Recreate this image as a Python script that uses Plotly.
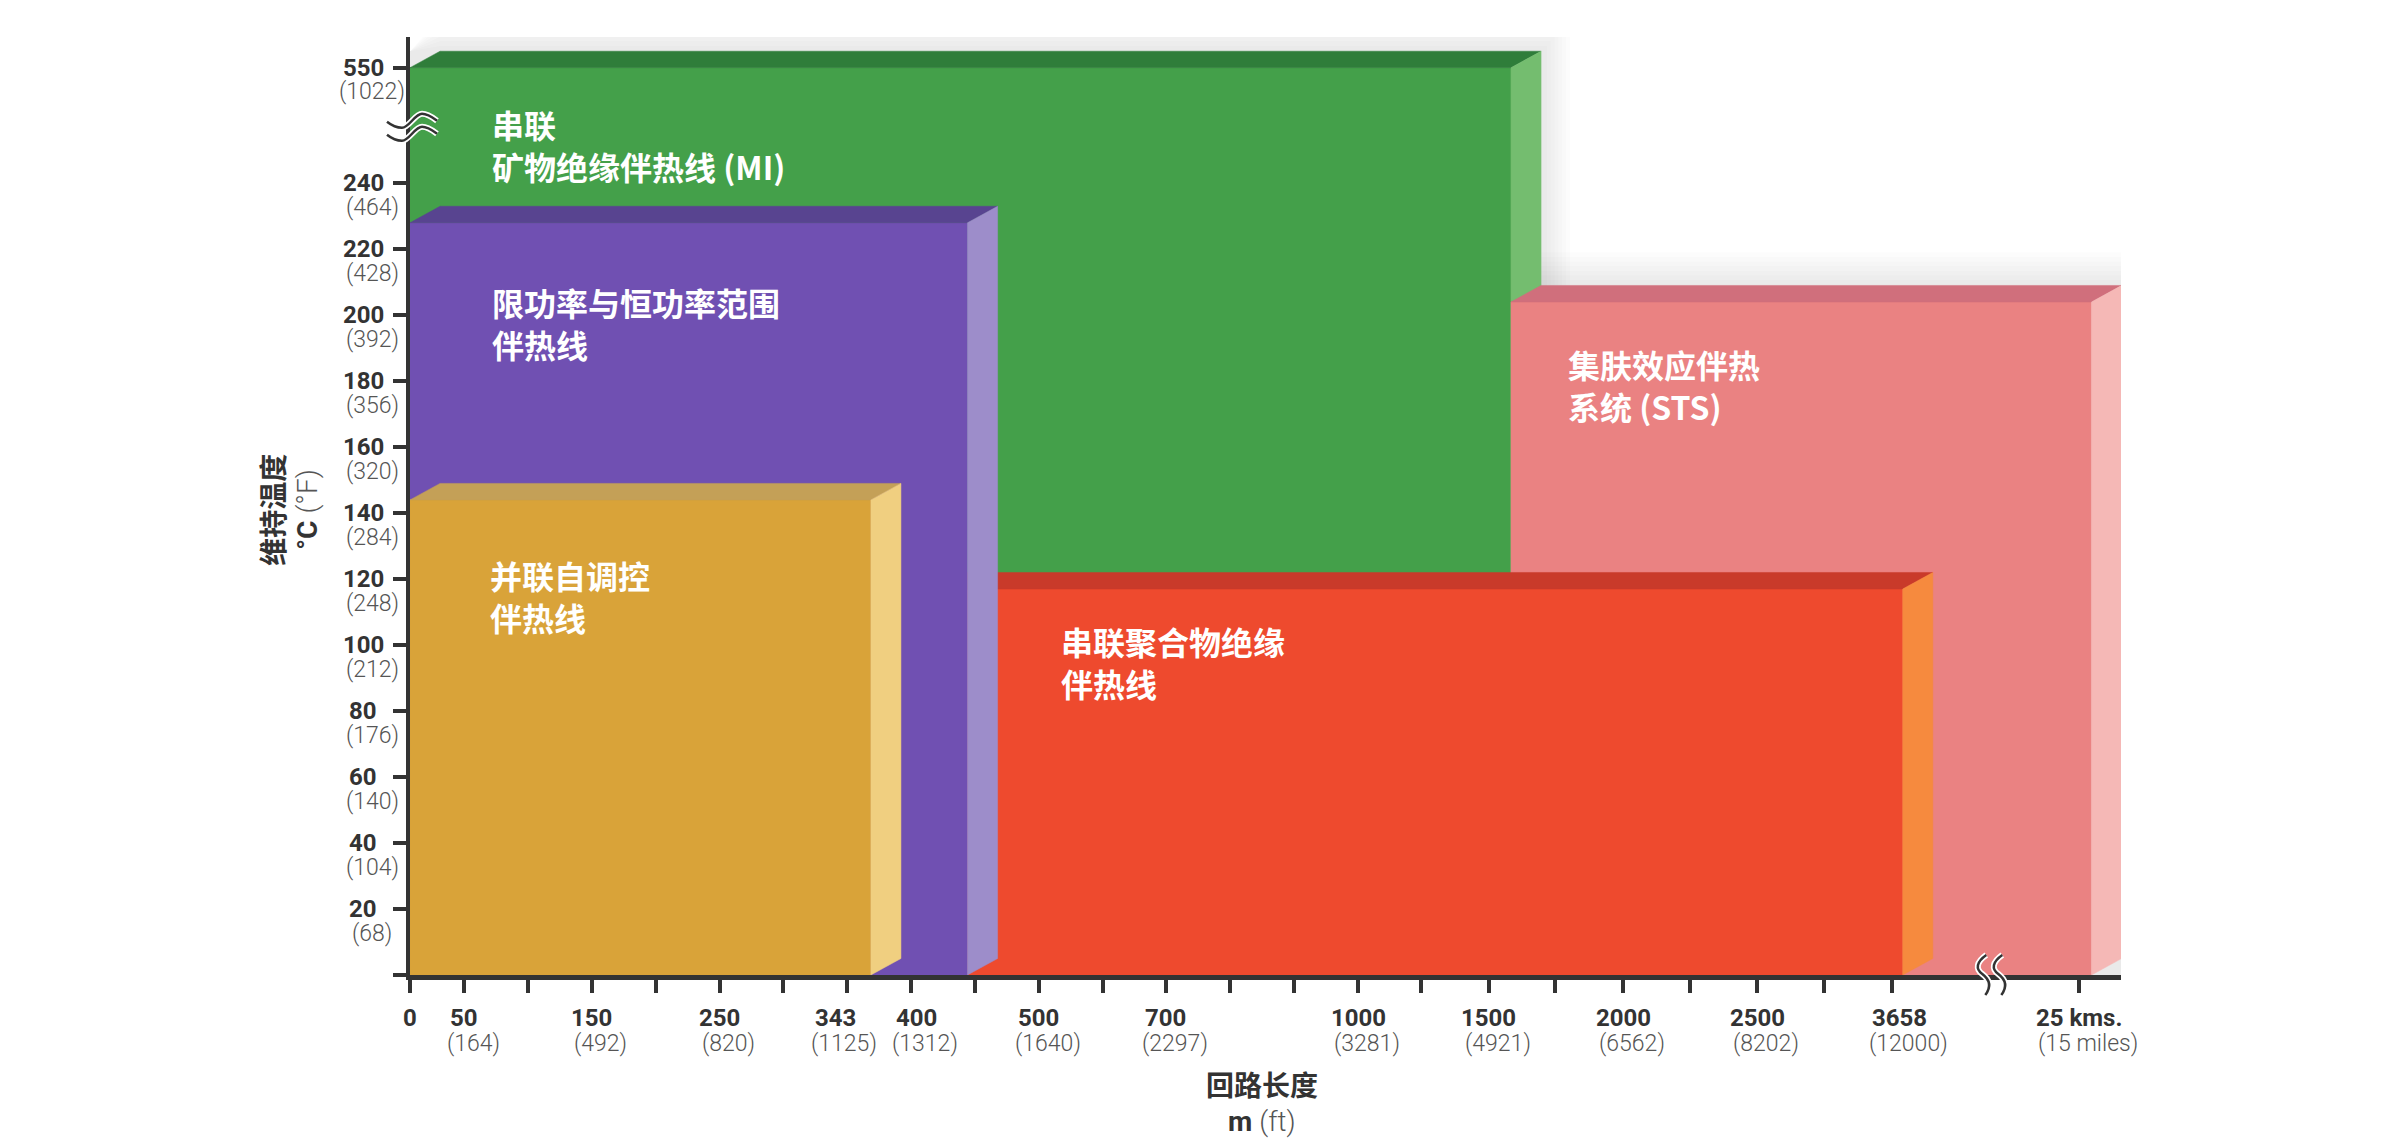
import plotly.graph_objects as go

# ---- values ----
# The length axis is schematic (not linear), so positions are in "tick slot" units
x_pos = [0, 0.85, 2.84, 4.84, 6.83, 7.83, 9.82, 11.81, 14.81, 16.85, 18.95, 21.05, 23.15, 26.07]
x_m = ["0", "50", "150", "250", "343", "400", "500", "700", "1000", "1500", "2000", "2500", "3658", "25 kms."]
x_ft = ["", "(164)", "(492)", "(820)", "(1125)", "(1312)", "(1640)", "(2297)", "(3281)", "(4921)",
        "(6562)", "(8202)", "(12000)", "(15 miles)"]
x_minor = [1.85, 3.84, 5.83, 8.82, 10.82, 12.81, 13.81, 15.8, 17.89, 20.0, 22.09]

# temperature axis: linear 0-240 °C, then a break, 550 °C sits at slot 275
y_pos = [20, 40, 60, 80, 100, 120, 140, 160, 180, 200, 220, 240, 275]
y_c = ["20", "40", "60", "80", "100", "120", "140", "160", "180", "200", "220", "240", "550"]
y_f = ["(68)", "(104)", "(140)", "(176)", "(212)", "(248)", "(284)", "(320)", "(356)", "(392)",
       "(428)", "(464)", "(1022)"]

# heat-tracing families, listed back to front
series = ["串联<br>矿物绝缘伴热线 (MI)", "集肤效应伴热<br>系统 (STS)", "串联聚合物绝缘<br>伴热线",
          "限功率与恒功率范围<br>伴热线", "并联自调控<br>伴热线"]
len_from = [0, 17.2, 0, 0, 0]
len_to = [17.2, 26.27, 23.32, 8.71, 7.2]
temp_max = [275, 204, 117, 228, 144]

# ---- styling ----
X_RANGE = [0, 26.73]
Y_RANGE = [0, 284.3]
# (front, top, side) face colours
colors = [
    ("#44a04a", "#2f7d3a", "#74bd6f"),
    ("#ea8282", "#d06f7c", "#f5b8b6"),
    ("#ee4a2e", "#c93a2a", "#f68a3e"),
    ("#7050b2", "#584490", "#9d8dca"),
    ("#d9a339", "#c4a057", "#f0cf80"),
]
label_pos = [(1.25, 251.7), (18.06, 178.8), (10.14, 95.0), (1.25, 197.6), (1.22, 114.9)]
# small nudges for crowded x tick labels (pixels)
x_label_nudge = {"343": -12, "400": 5, "3658": 8}
DX, DY = 0.47, 5  # block depth, in axis units

NUM_FONT = "Roboto"
CJK_FONT = "Noto Sans CJK SC"

fig = go.Figure()

# soft grey haze behind the blocks (top and right edges)
haze_steps = [(0.45, 10), (0.39, 8.6), (0.33, 7.2), (0.27, 5.8), (0.21, 4.4), (0.15, 3), (0.09, 1.6)]
for ex, ey in haze_steps:
    for i in range(len(series)):
        x0, x1, top = len_from[i], len_to[i], temp_max[i]
        fig.add_trace(go.Scatter(
            x=[x0, x0, x0 + DX, x1 + DX + ex, x1 + DX + ex, x0],
            y=[0, top + DY, top + DY + ey, top + DY + ey, 0, 0],
            mode="lines", fill="toself", fillcolor="rgba(90,90,90,0.016)",
            line=dict(width=0), hoverinfo="skip", showlegend=False,
        ))

for i, name in enumerate(series):
    x0, x1, top = len_from[i], len_to[i], temp_max[i]
    front, topc, side = colors[i]
    faces = [
        ([x0, x1, x1, x0, x0], [0, 0, top, top, 0], front),
        ([x0, x0 + DX, x1 + DX, x1, x0], [top, top + DY, top + DY, top, top], topc),
        ([x1, x1 + DX, x1 + DX, x1, x1], [0, DY, top + DY, top, 0], side),
    ]
    for fx, fy, c in faces:
        fig.add_trace(go.Scatter(
            x=fx, y=fy, mode="lines", fill="toself", fillcolor=c,
            line=dict(color=c, width=0.5), hoverinfo="skip", showlegend=False, name=name,
        ))

annotations = []
# block labels
for name, (lx, ly) in zip(series, label_pos):
    annotations.append(dict(x=lx, y=ly, xref="x", yref="y", text=name, showarrow=False,
                            xanchor="left", yanchor="middle", align="left",
                            font=dict(family=CJK_FONT, size=32, color="white", weight="bold")))

# x tick labels: metres (bold) over feet (light)
for xp, m, ft in zip(x_pos, x_m, x_ft):
    nudge = x_label_nudge.get(m, 0)
    annotations.append(dict(x=xp, y=0, xref="x", yref="y", yshift=-43, xshift=nudge, text=m,
                            showarrow=False, xanchor="center", yanchor="middle",
                            font=dict(family=NUM_FONT, size=24, color="#333333", weight="bold")))
    if ft:
        annotations.append(dict(x=xp, y=0, xref="x", yref="y", yshift=-68, xshift=nudge + 9, text=ft,
                                showarrow=False, xanchor="center", yanchor="middle",
                                font=dict(family=NUM_FONT, size=23, color="#555555", weight=300)))

# y tick labels: °C (bold) over °F (light)
for yp, c, f in zip(y_pos, y_c, y_f):
    annotations.append(dict(x=0, y=yp, xref="x", yref="y", xshift=-47, text=c, showarrow=False,
                            xanchor="center", yanchor="middle",
                            font=dict(family=NUM_FONT, size=24, color="#333333", weight="bold")))
    annotations.append(dict(x=0, y=yp, xref="x", yref="y", xshift=-38, yshift=-24, text=f,
                            showarrow=False, xanchor="center", yanchor="middle",
                            font=dict(family=NUM_FONT, size=23, color="#555555", weight=300)))

# axis titles
annotations += [
    dict(x=0, y=141, xref="x", yref="y", xshift=-138, text="维持温度", textangle=-90, showarrow=False,
         font=dict(family=CJK_FONT, size=28, color="#333333", weight="bold")),
    dict(x=0, y=141, xref="x", yref="y", xshift=-102,
         text="<b>°C</b> <span style='font-weight:300;color:#555555'>(°F)</span>",
         textangle=-90, showarrow=False, font=dict(family=NUM_FONT, size=28, color="#333333")),
    dict(x=13.31, y=0, xref="x", yref="y", yshift=-109, text="回路长度", showarrow=False,
         font=dict(family=CJK_FONT, size=28, color="#333333", weight="bold")),
    dict(x=13.31, y=0, xref="x", yref="y", yshift=-146,
         text="<b>m</b> <span style='font-weight:300;color:#555555'>(ft)</span>",
         showarrow=False, font=dict(family=NUM_FONT, size=28, color="#333333")),
]

# axis break marks (white halo under a dark stroke); paper-referenced so they are not clipped
shapes = []
y_break = [f"M -23,{b + 6} C -18,{b + 2} -13,{b} -8,{b} C -1,{b} 5,{b + 14} 12,{b + 14} "
           f"C 18,{b + 14} 23,{b + 10} 27,{b + 7}" for b in (0, -13)]
x_break = [f"M {s + 1},20 C {s - 9},13 {s - 10},6 {s - 3},1 C {s + 5},-5 {s + 6},-12 {s},-20"
           for s in (0, 16)]
breaks = [
    (y_break, 0.0, 256.8 / Y_RANGE[1]),
    (x_break, 24.61 / X_RANGE[1], 0.0),
]
for paths, xa, ya in breaks:
    for p in paths:
        for col, w in (("white", 6), ("#333333", 2.5)):
            shapes.append(dict(type="path", xref="paper", yref="paper",
                               xsizemode="pixel", ysizemode="pixel",
                               xanchor=xa, yanchor=ya, path=p, line=dict(color=col, width=w)))

fig.update_layout(
    width=2403, height=1148,
    margin=dict(l=402, r=290, t=29, b=181),
    paper_bgcolor="white", plot_bgcolor="white",
    showlegend=False,
    annotations=annotations,
    shapes=shapes,
    xaxis=dict(range=X_RANGE, showgrid=False, zeroline=False, showline=True,
               linecolor="#333333", linewidth=5, ticks="outside",
               tickvals=sorted(x_pos + x_minor), ticklen=13, tickwidth=4, tickcolor="#333333",
               showticklabels=False),
    yaxis=dict(range=Y_RANGE, showgrid=False, zeroline=False, showline=True,
               linecolor="#333333", linewidth=4, ticks="outside",
               tickvals=[0] + y_pos, ticklen=13, tickwidth=4, tickcolor="#333333",
               showticklabels=False),
)

fig.write_html("out.html")
